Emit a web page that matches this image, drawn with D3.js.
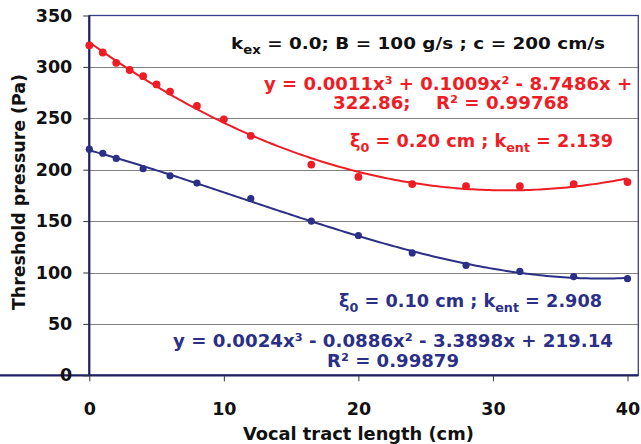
<!DOCTYPE html>
<html>
<head>
<meta charset="utf-8">
<script src="https://cdn.jsdelivr.net/npm/d3@7"></script>
<style>
  body { margin: 0; background: #fff; }
  svg { display: block; }
  text { font-family: "DejaVu Sans", Verdana, sans-serif; font-weight: bold; }
</style>
</head>
<body>
<div id="chart"></div>
<script>
// data
const redX = [0, 1, 2, 3, 4, 5, 6, 8, 10, 12, 16.5, 20, 24, 28, 32, 36, 40];
const redY = [321, 314, 304, 297, 291, 283, 276, 262, 249, 233, 205, 193, 186, 184, 184, 186, 188];
const blueX = [0, 1, 2, 4, 6, 8, 12, 16.5, 20, 24, 28, 32, 36, 40];
const blueY = [220, 216, 211, 201, 194, 187, 172, 150, 136, 119, 107, 101, 96, 94];

const xTicks = [0, 10, 20, 30, 40];
const yTicks = [0, 50, 100, 150, 200, 250, 300, 350];

const xTitle = 'Vocal tract length (cm)';
const yTitle = 'Threshold pressure (Pa)';

// [text, 'sub' or ''] pieces
const headerParts = [['k', ''], ['ex', 'sub'], [' = 0.0; B = 100 g/s ; c = 200 cm/s', '']];
const redEquation = ['y = 0.0011x³ + 0.1009x² - 8.7486x +', '322.86;    R² = 0.99768'];
const redParams = [['ξ', ''], ['0', 'sub'], [' = 0.20 cm ; k', ''], ['ent', 'sub'], [' = 2.139', '']];
const blueParams = [['ξ', ''], ['0', 'sub'], [' = 0.10 cm ; k', ''], ['ent', 'sub'], [' = 2.908', '']];
const blueEquation = ['y = 0.0024x³ - 0.0886x² - 3.3898x + 219.14', 'R² = 0.99879'];

const RED = '#ee1d25';
const BLUE = '#2b2f86';

// least squares cubic, like the spreadsheet trendline
function cubicFit(xs, ys) {
  const n = 4;
  const A = [];
  for (let i = 0; i < n; i++) {
    A.push([]);
    for (let j = 0; j < n; j++) A[i].push(d3.sum(xs, (x) => Math.pow(x, i + j)));
    A[i].push(d3.sum(xs, (x, k) => ys[k] * Math.pow(x, i)));
  }
  for (let c = 0; c < n; c++) {
    let p = c;
    for (let r = c + 1; r < n; r++) if (Math.abs(A[r][c]) > Math.abs(A[p][c])) p = r;
    [A[c], A[p]] = [A[p], A[c]];
    for (let r = 0; r < n; r++) {
      if (r === c) continue;
      const f = A[r][c] / A[c][c];
      for (let k = c; k <= n; k++) A[r][k] -= f * A[c][k];
    }
  }
  const coef = A.map((row, i) => row[n] / row[i]);
  return (x) => coef[0] + coef[1] * x + coef[2] * x * x + coef[3] * x * x * x;
}

const W = 641;
const H = 444;

const svg = d3
  .select('#chart')
  .append('svg')
  .attr('width', W)
  .attr('height', H);

const x = d3.scaleLinear().domain([0, 40]).range([89.3, 627.5]);
const y = d3.scaleLinear().domain([0, 350]).range([375.3, 15.5]);
const frameRight = 638.3;

// gridlines
svg
  .selectAll('.grid')
  .data(yTicks.filter((d) => d > 0 && d < 350))
  .enter()
  .append('line')
  .attr('x1', x(0))
  .attr('x2', frameRight)
  .attr('y1', (d) => Math.round(y(d)) + 0.5)
  .attr('y2', (d) => Math.round(y(d)) + 0.5)
  .attr('stroke', '#808080')
  .attr('stroke-width', 1);

// plot frame
svg
  .append('rect')
  .attr('x', x(0))
  .attr('y', y(350))
  .attr('width', frameRight - x(0))
  .attr('height', y(0) - y(350))
  .attr('fill', 'none')
  .attr('stroke', '#3a3d8e')
  .attr('stroke-width', 1.3);

// axes
const xAxis = svg
  .append('g')
  .attr('transform', `translate(0,${y(0)})`)
  .call(d3.axisBottom(x).tickValues(xTicks).tickSize(6).tickPadding(21).tickSizeOuter(0));
const yAxis = svg
  .append('g')
  .attr('transform', `translate(${x(0)},0)`)
  .call(d3.axisLeft(y).tickValues(yTicks).tickSize(6).tickPadding(11).tickSizeOuter(0));

[xAxis, yAxis].forEach((g) => {
  g.select('.domain').attr('stroke', '#1f2163').attr('stroke-width', 2.2);
  g.selectAll('.tick line').attr('stroke', '#333');
  g.selectAll('.tick text')
    .attr('fill', '#111')
    .style('font-family', '"DejaVu Sans", Verdana, sans-serif')
    .style('font-weight', 'bold')
    .style('font-size', '17.5px');
});
yAxis.select('.domain').attr('d', `M0,${y(350)}V${y(0)}`);
xAxis.select('.domain').attr('d', `M0,0H${frameRight}`);

// axis titles
svg
  .append('text')
  .attr('x', x(20))
  .attr('y', 440)
  .attr('text-anchor', 'middle')
  .attr('font-size', 17.5)
  .attr('fill', '#111')
  .attr('textLength', 231)
  .attr('lengthAdjust', 'spacingAndGlyphs')
  .text(xTitle);

svg
  .append('text')
  .attr('transform', 'translate(24.5,192) rotate(-90)')
  .attr('text-anchor', 'middle')
  .attr('font-size', 17.5)
  .attr('fill', '#111')
  .attr('textLength', 236)
  .attr('lengthAdjust', 'spacingAndGlyphs')
  .text(yTitle);

// trendlines
const line = d3
  .line()
  .x((d) => x(d[0]))
  .y((d) => y(d[1]));

function drawSeries(xs, ys, color, r) {
  const f = cubicFit(xs, ys);
  const pts = d3.range(0, 40.01, 0.25).map((v) => [v, f(v)]);
  svg
    .append('path')
    .datum(pts)
    .attr('fill', 'none')
    .attr('stroke', color)
    .attr('stroke-width', 2)
    .attr('d', line);

  svg
    .append('g')
    .selectAll('circle')
    .data(xs)
    .enter()
    .append('circle')
    .attr('cx', (d) => x(d))
    .attr('cy', (d, i) => y(ys[i]))
    .attr('r', r)
    .attr('fill', color);
}

drawSeries(redX, redY, RED, 3.9);
drawSeries(blueX, blueY, BLUE, 3.6);

// annotation text
function addText(parts, cx, by, size, color, width) {
  const t = svg
    .append('text')
    .attr('x', cx)
    .attr('y', by)
    .attr('text-anchor', 'middle')
    .attr('font-size', size)
    .attr('fill', color)
    .style('white-space', 'pre');
  let shifted = false;
  parts.forEach((p) => {
    const s = t.append('tspan').text(p[0]);
    if (p[1] === 'sub') {
      s.attr('font-size', size * 0.72).attr('dy', size * 0.3);
      shifted = true;
    } else if (shifted) {
      s.attr('dy', -size * 0.3);
      shifted = false;
    }
  });
  if (width) t.attr('textLength', width).attr('lengthAdjust', 'spacingAndGlyphs');
  return t;
}

addText(headerParts, 418, 49, 16.5, '#111', 374);
addText([[redEquation[0], '']], 448, 90, 18, RED, 368);
addText([[redEquation[1], '']], 451, 109, 18, RED, 236);
addText(redParams, 481.5, 147, 17.7, RED, 263);
addText(blueParams, 470.5, 307, 17.7, BLUE, 263);
addText([[blueEquation[0], '']], 393, 347, 18, BLUE, 440);
addText([[blueEquation[1], '']], 393, 367, 18, BLUE, 132);
</script>
</body>
</html>
